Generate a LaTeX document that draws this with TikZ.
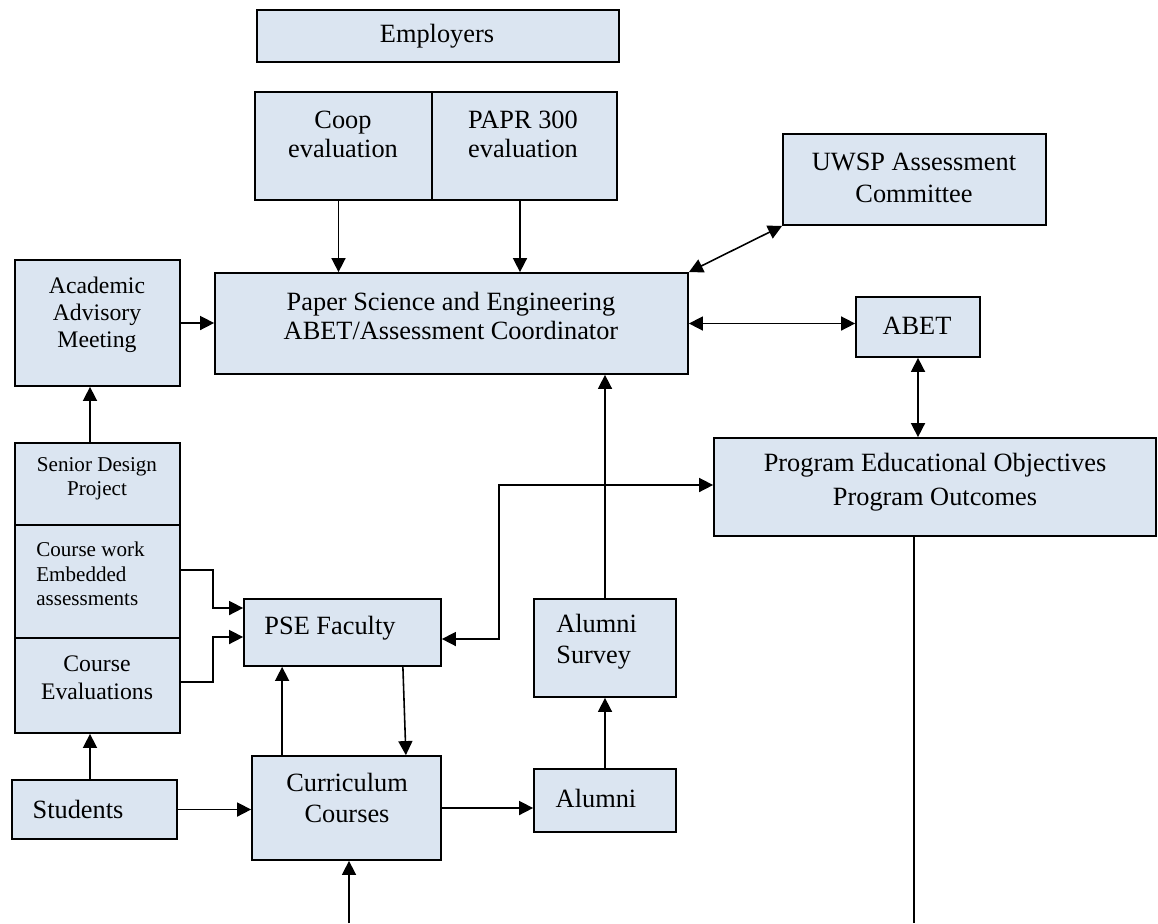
\documentclass[tikz,border=0pt]{standalone}
\usepackage{fontspec}
\setmainfont{Liberation Serif}
\usetikzlibrary{arrows.meta,fit,calc}
\definecolor{boxfill}{RGB}{219,229,241}
\begin{document}
\begin{tikzpicture}[x=0.02cm,y=-0.02cm,
  box/.style={draw=black, fill=boxfill, line width=1pt, inner sep=0pt, rectangle},
  lbl/.style={font=\fontsize{15}{17}\selectfont, align=center, inner sep=0pt},
  mlbl/.style={font=\fontsize{13.5}{15.5}\selectfont, align=center, inner sep=0pt},
  slbl/.style={font=\fontsize{12}{13.5}\selectfont, align=center, inner sep=0pt},
  ln/.style={line width=0.9pt},
  arr/.style={line width=0.9pt, -{Triangle[length=8pt,width=8pt]}},
  darr/.style={line width=0.9pt, {Triangle[length=8pt,width=8pt]}-{Triangle[length=8pt,width=8pt]}}]
\useasboundingbox (0,0) rectangle (1158,923);

% boxes
\node[box, fit={(257,10) (619,62)}] (emp) {};
\node[box, fit={(255,92) (432,200)}] (coop) {};
\node[box, fit={(432,92) (617,200)}] (papr) {};
\node[box, fit={(215,273) (688,374)}] (coord) {};
\node[box, fit={(783,134) (1046,225)}] (uwsp) {};
\node[box, fit={(856,297) (980,357)}] (abet) {};
\node[box, fit={(714,438) (1156,536)}] (poe) {};
\node[box, fit={(15,260) (180,386)}] (aam) {};
\node[box, fit={(15,443) (180,525)}] (senior) {};
\node[box, fit={(15,525) (180,638)}] (cwork) {};
\node[box, fit={(15,638) (180,733)}] (ceval) {};
\node[box, fit={(12,780) (177,839)}] (students) {};
\node[box, fit={(244,599) (441,666)}] (pse) {};
\node[box, fit={(252,756) (441,860)}] (curr) {};
\node[box, fit={(534,599) (676,697)}] (survey) {};
\node[box, fit={(534,769) (676,832)}] (alumni) {};

% labels
\node[lbl] (emp-t) at (437,36) {Employers};
\node[lbl, font=\fontsize{15}{16.5}\selectfont] (coop-t) at (343,134) {Coop\\evaluation};
\node[lbl, font=\fontsize{15}{16.5}\selectfont] (papr-t) at (523,134) {PAPR 300\\evaluation};
\node[lbl] (coord-t) at (451,316) {Paper Science and Engineering\\ABET/Assessment Coordinator};
\node[lbl, font=\fontsize{15}{18.5}\selectfont] (uwsp-t) at (914,178) {UWSP Assessment\\Committee};
\node[lbl] (abet-t) at (917,326) {ABET};
\node[lbl, font=\fontsize{15}{19}\selectfont] (poe-t) at (935,482) {Program Educational Objectives\\Program Outcomes};
\node[mlbl] (aam-t) at (97,315) {Academic\\Advisory\\Meeting};
\node[slbl] (senior-t) at (97,479) {Senior Design\\Project};
\node[slbl, align=left, anchor=west, font=\fontsize{12}{14}\selectfont] (cwork-t) at (36,574) {Course work\\Embedded\\assessments};
\node[mlbl, font=\fontsize{13.5}{16}\selectfont] (ceval-t) at (97,678) {Course\\Evaluations};
\node[lbl] (students-t) at (78,809) {Students};
\node[lbl] (pse-t) at (330,628) {PSE Faculty};
\node[lbl, font=\fontsize{15}{17.5}\selectfont] (curr-t) at (347,798) {Curriculum\\Courses};
\node[lbl, align=left, anchor=west, font=\fontsize{15}{17.5}\selectfont] (survey-t) at (556,642) {Alumni\\Survey};
\node[lbl] (alumni-t) at (596,798) {Alumni};

% free ends at the lower edge
\coordinate (cbot) at (349,923);
\coordinate (pbot) at (914,923);

% connectors
\draw[arr] ([xshift=-0.1cm]coop.south) -- ([xshift=-0.1cm]coop.south |- coord.north);
\draw[arr] ([xshift=-0.09cm]papr.south) -- ([xshift=-0.09cm]papr.south |- coord.north);
\draw[darr] (coord.north east) -- (uwsp.south west);
\draw[darr] (coord.east) -- (coord.east -| abet.west);
\draw[darr] (abet.south) -- (abet.south |- poe.north);
\draw[ln] (pbot |- poe.south) -- (pbot);
\draw[arr] (cbot) -- (cbot |- curr.south);
\draw[arr] (aam.east) -- (aam.east -| coord.west);
\draw[arr] ([xshift=-0.15cm]senior.north) -- ([xshift=-0.15cm]senior.north |- aam.south);
\draw[arr] ([xshift=-0.09cm]students.north) -- ([xshift=-0.09cm]students.north |- ceval.south);
\draw[arr] ([yshift=0.23cm]cwork.east) -- ++(0.64cm,0) |- ([yshift=0.49cm]pse.west);
\draw[arr] ([yshift=0.07cm]ceval.east) -- ++(0.64cm,0) |- ([yshift=-0.09cm]pse.west);
\draw[darr] ([yshift=-0.13cm]pse.east) -- ++(1.14cm,0) |- ([yshift=0.04cm]poe.west);
\draw[arr] ([xshift=0.62cm]curr.north west) -- ([xshift=0.62cm]curr.north west |- pse.south);
\draw[arr] ([xshift=-0.78cm]pse.south east) -- ([xshift=-0.72cm]curr.north east);
\draw[arr] (students.east) -- (students.east -| curr.west);
\draw[arr] (curr.east) -- (curr.east -| alumni.west);
\draw[arr] (alumni.north) -- (alumni.north |- survey.south);
\draw[arr] (survey.north) -- (survey.north |- coord.south);
\end{tikzpicture}
\end{document}
